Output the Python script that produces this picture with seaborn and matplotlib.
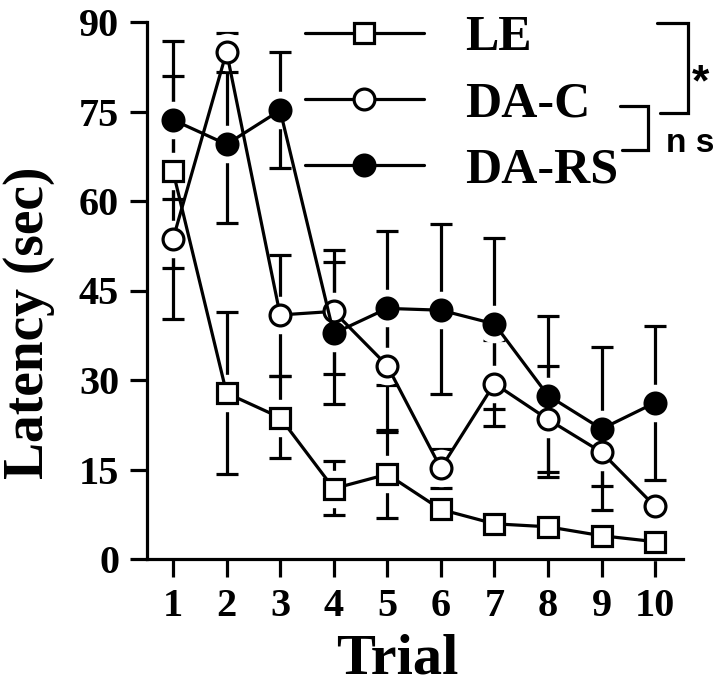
import numpy as np
import pandas as pd
import matplotlib
matplotlib.use("Agg")
import matplotlib.pyplot as plt
from matplotlib.lines import Line2D
import seaborn as sns

# ---------------- data ----------------
trials = [1, 2, 3, 4, 5, 6, 7, 8, 9, 10]
groups = ["LE", "DA-C", "DA-RS"]

le_mean = [65.0, 27.8, 23.7, 11.8, 14.2, 8.3, 5.9, 5.4, 3.9, 2.9]
le_err_hi = [15.9, 13.6, 6.9, 4.6, 7.4, 0.0, 0.0, 0.0, 0.0, 0.0]
le_err_lo = [16.2, 13.6, 6.7, 4.5, 7.4, 0.0, 0.0, 0.0, 0.0, 0.0]

dac_mean = [53.6, 85.0, 40.9, 41.5, 32.4, 15.2, 29.4, 23.4, 17.9, 8.8]
dac_err_hi = [0.0, 3.2, 10.0, 10.3, 11.3, 3.3, 7.3, 8.9, 5.7, 0.0]
dac_err_lo = [13.4, 3.3, 10.3, 10.5, 11.1, 3.3, 7.1, 8.8, 5.7, 0.0]

dars_mean = [73.6, 69.5, 75.2, 37.8, 42.0, 41.7, 39.4, 27.4, 21.8, 26.2]
dars_err_hi = [13.2, 13.6, 9.7, 12.0, 13.0, 14.4, 14.4, 13.3, 13.7, 12.9]
dars_err_lo = [13.3, 13.2, 9.7, 11.9, 12.8, 14.1, 14.3, 13.6, 13.6, 13.0]

yticks = [0, 15, 30, 45, 60, 75, 90]

df = pd.DataFrame({
    "Trial": trials * 3,
    "Latency": le_mean + dac_mean + dars_mean,
    "lo": le_err_lo + dac_err_lo + dars_err_lo,
    "hi": le_err_hi + dac_err_hi + dars_err_hi,
    "Group": [g for g in groups for _ in trials],
})

# ---------------- style ----------------
sns.set_style("ticks")
plt.rcParams["font.family"] = ["Liberation Serif", "DejaVu Serif"]
plt.rcParams["font.weight"] = "bold"
for k in ["text.color", "axes.labelcolor", "xtick.color", "ytick.color",
          "axes.edgecolor"]:
    plt.rcParams[k] = "black"

W, H = 720, 684
fig = plt.figure(figsize=(W / 100, H / 100), dpi=100)
ax = fig.add_axes([147 / W, 1 - 559 / H, (683 - 147) / W, (559 - 22) / H])

LW = 2.3
MS = 15
styles = {
    "LE": dict(marker="s", mfc="white"),
    "DA-C": dict(marker="o", mfc="white"),
    "DA-RS": dict(marker="o", mfc="black"),
}

# error bars (bottom layer)
for g in groups:
    d = df[df.Group == g]
    ax.errorbar(d.Trial, d.Latency, yerr=[d.lo, d.hi], fmt="none",
                ecolor="black", elinewidth=LW, capsize=8, capthick=LW,
                zorder=1, clip_on=False)

# white halos around markers (gap between marker and error bar)
for g in groups:
    d = df[df.Group == g]
    ax.plot(d.Trial, d.Latency, linestyle="none", marker=styles[g]["marker"],
            ms=MS + 11, mfc="white", mec="white", zorder=2, clip_on=False)

# lines and markers
for i, g in enumerate(groups):
    d = df[df.Group == g]
    sns.lineplot(data=d, x="Trial", y="Latency", ax=ax, color="black",
                 linewidth=LW, marker=styles[g]["marker"], markersize=MS,
                 markerfacecolor=styles[g]["mfc"], markeredgecolor="black",
                 markeredgewidth=LW,
                 label=g, zorder=3 + i, clip_on=False, legend=True)

ax.set_xlim(0.515, 10.52)
ax.set_ylim(0, 90)
ax.set_xticks(trials)
ax.set_yticks(yticks)
ax.set_xticklabels([str(t) for t in trials])
ax.set_yticklabels([str(t) for t in yticks])
for s in ["top", "right"]:
    ax.spines[s].set_visible(False)
for s in ["left", "bottom"]:
    ax.spines[s].set_linewidth(LW)
    ax.spines[s].set_color("black")
ax.tick_params(axis="y", length=12, width=LW, pad=8, labelsize=29, colors="black")
ax.tick_params(axis="x", length=13, width=LW, pad=8, labelsize=29, colors="black")
for lab in ax.get_xticklabels() + ax.get_yticklabels():
    lab.set_fontweight("bold")

ax.set_xlabel("Trial", fontsize=42, fontweight="bold")
ax.set_ylabel("Latency (sec)", fontsize=40, fontweight="bold")
ax.xaxis.set_label_coords((397 - 147) / 536, -0.138)
ax.yaxis.set_label_coords(-0.172, 0.44)

leg = ax.legend(loc="upper left", bbox_to_anchor=((305 - 147) / 536, 1.013),
                frameon=False, handlelength=2.37,
                handletextpad=0.84, labelspacing=0.40, borderpad=0,
                borderaxespad=0, prop={"family": "Liberation Serif",
                                       "weight": "bold", "size": 36})
for t in leg.get_texts():
    t.set_color("black")

# significance brackets (figure pixel coords)
def fl(xs, ys):
    fig.add_artist(Line2D([x / W for x in xs], [1 - y / H for y in ys],
                          transform=fig.transFigure, color="black", lw=LW,
                          solid_joinstyle="miter"))

fl([657, 688, 688, 660], [23, 23, 113, 113])
fl([620, 648, 648, 622], [106, 106, 150, 150])
fig.text(700 / W, 1 - 84 / H, "*", fontsize=32, fontweight="bold",
         family="Liberation Sans", ha="center", va="center")
fig.text(690 / W, 1 - 144 / H, "n s", fontsize=24, fontweight="bold",
         family="Liberation Sans", ha="center", va="center")

fig.savefig("out.png", dpi=100)
